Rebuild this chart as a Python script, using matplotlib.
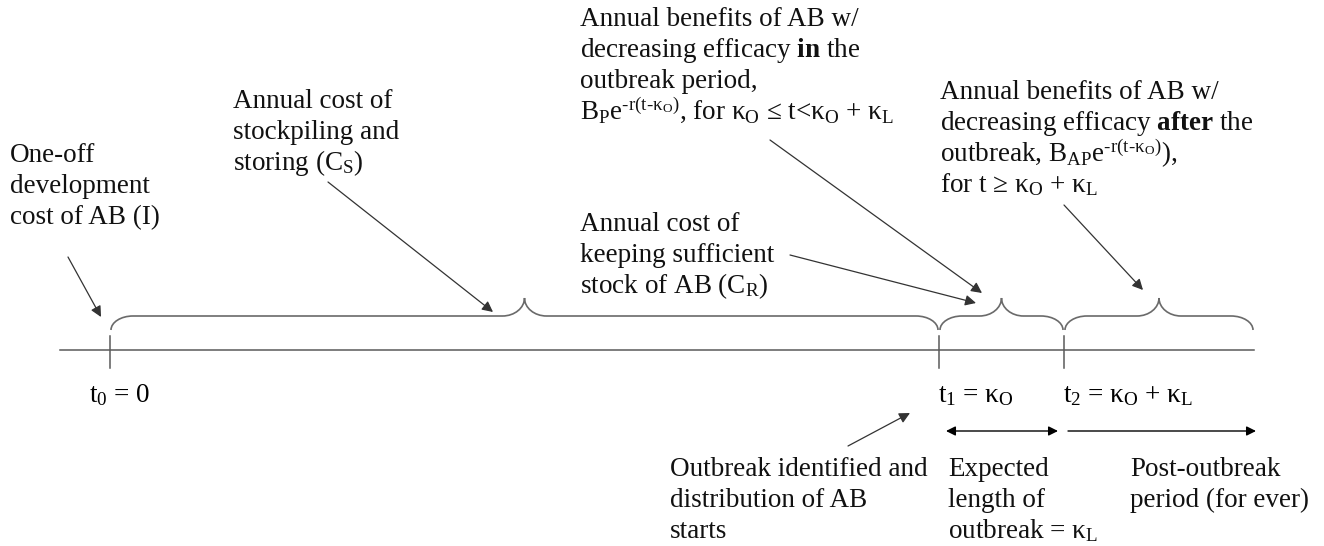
import matplotlib.pyplot as plt
from matplotlib.path import Path
from matplotlib.patches import PathPatch

plt.rcParams['font.family'] = 'Liberation Serif'
plt.rcParams['mathtext.fontset'] = 'custom'
plt.rcParams['mathtext.rm'] = 'Liberation Serif'
plt.rcParams['mathtext.it'] = 'Liberation Serif:italic'
plt.rcParams['mathtext.bf'] = 'Liberation Serif:bold'

# timeline points (pixel x of t0, t1, t2) and where the axis ends
t_points = [110, 939, 1064]
t_end = 1254
t_labels = [r'$\mathrm{t_0}$ = 0',
            r'$\mathrm{t_1}$ = $\mathrm{\kappa_O}$',
            r'$\mathrm{t_2}$ = $\mathrm{\kappa_O}$ + $\mathrm{\kappa_L}$']

# text blocks: (x, first baseline, lines)
blocks = [
    (10, 162, ['One-off', 'development', 'cost of AB (I)']),
    (233, 108, ['Annual cost of', 'stockpiling and', r'storing (C$_\mathrm{S}$)']),
    (580, 26, ['Annual benefits of AB w/',
               r'decreasing efficacy $\mathbf{in}$ the',
               'outbreak period,',
               r'B$_\mathrm{P}$e$^\mathrm{‐r(t‐\kappa_O)}$, for $\mathrm{\kappa_O}$ ≤ t<$\mathrm{\kappa_O}$ + $\mathrm{\kappa_L}$']),
    (580, 231, ['Annual cost of', 'keeping sufficient', r'stock of AB (C$_\mathrm{R}$)']),
    (940, 99, ['Annual benefits of AB w/',
               r'decreasing efficacy $\mathbf{after}$ the',
               r'outbreak, B$_\mathrm{AP}$e$^\mathrm{‐r(t‐\kappa_O)}$),',
               r'for t ≥ $\mathrm{\kappa_O}$ + $\mathrm{\kappa_L}$']),
    (670, 476, ['Outbreak identified and', 'distribution of AB', 'starts']),
    (948, 476, ['Expected', 'length of', r'outbreak = $\mathrm{\kappa_L}$']),
    (1130, 476, ['Post-outbreak', 'period (for ever)']),
]

# annotation arrows: (start, tip)
pointers = [
    ((68, 257), (101, 317)),
    ((328, 182), (493, 312)),
    ((790, 255), (976, 303)),
    ((770, 140), (982, 293)),
    ((1064, 205), (1143, 290)),
    ((848, 446), (910, 413)),
]

FS = 19.5
GREY = '#5a5a5a'
LINE_H = 31

fig = plt.figure(figsize=(13.24, 5.46), dpi=100)
ax = fig.add_axes([0, 0, 1, 1])
ax.set_xlim(0, 1324)
ax.set_ylim(546, 0)
ax.axis('off')


def brace(x0, x1, y_end=330, y_flat=316, y_peak=298, r=22):
    xc = (x0 + x1) / 2
    k = 0.55
    verts = [(x0, y_end),
             (x0, y_end - (y_end - y_flat) * k), (x0 + r * (1 - k), y_flat), (x0 + r, y_flat),
             (xc - r, y_flat),
             (xc - r * (1 - k), y_flat), (xc, y_flat - (y_flat - y_peak) * (1 - k)), (xc, y_peak),
             (xc, y_flat - (y_flat - y_peak) * (1 - k)), (xc + r * (1 - k), y_flat), (xc + r, y_flat),
             (x1 - r, y_flat),
             (x1 - r * (1 - k), y_flat), (x1, y_end - (y_end - y_flat) * k), (x1, y_end)]
    codes = [Path.MOVETO] + [Path.CURVE4] * 3 + [Path.LINETO] + [Path.CURVE4] * 6 + \
            [Path.LINETO] + [Path.CURVE4] * 3
    ax.add_patch(PathPatch(Path(verts, codes), fill=False, ec='#6a6a6a', lw=1.2))


# main axis and ticks
ax.plot([60, t_end], [350, 350], color=GREY, lw=1.1)
for x in t_points:
    ax.plot([x, x], [336, 368], color=GREY, lw=1.1)

edges = t_points + [t_end]
for a, b in zip(edges[:-1], edges[1:]):
    brace(a + 1, b - 1)

for x, lab in zip(t_points, t_labels):
    ax.text(x - 21 if x == t_points[0] else x - 1, 402, lab, fontsize=FS, va='baseline', ha='left')

# period arrows below the axis
ax.annotate('', xy=(946, 431), xytext=(1058, 431),
            arrowprops=dict(arrowstyle='<|-|>', color='black', lw=1, mutation_scale=14, shrinkA=0, shrinkB=0))
ax.annotate('', xy=(1256, 431), xytext=(1068, 431),
            arrowprops=dict(arrowstyle='-|>', color='black', lw=1, mutation_scale=14, shrinkA=0, shrinkB=0))

for start, tip in pointers:
    ax.annotate('', xy=tip, xytext=start,
                arrowprops=dict(arrowstyle='-|>', color='#333333', lw=0.9, mutation_scale=16, shrinkA=0, shrinkB=0))

for x, y0, lines in blocks:
    for i, line in enumerate(lines):
        ax.text(x, y0 + i * LINE_H, line, fontsize=FS, va='baseline', ha='left', color='#111111')

fig.savefig('out.png', dpi=100)
